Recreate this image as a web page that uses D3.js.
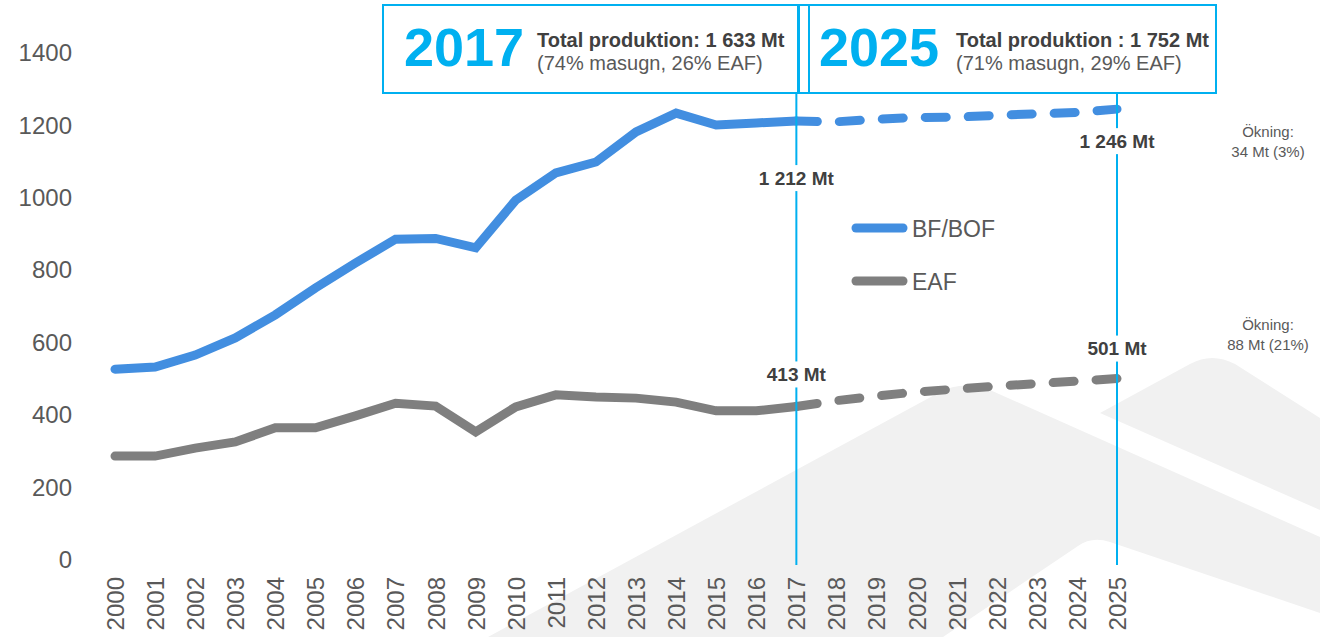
<!DOCTYPE html>
<html>
<head>
<meta charset="utf-8">
<script src="https://cdn.jsdelivr.net/npm/d3@7"></script>
<style>
  html, body { margin: 0; padding: 0; background: #fff; }
  svg { display: block; font-family: "Liberation Sans", Arial, sans-serif; }
</style>
</head>
<body>
<div id="chart"></div>
<script>
// --- data ---
const histYears = d3.range(2000, 2018);
const projYears = d3.range(2017, 2026);
const bfHist = [527, 533, 566, 613, 677, 751, 820, 886, 888, 862, 994, 1069, 1099, 1182, 1234, 1201, 1207, 1212];
const eafHist = [287, 287, 309, 326, 365, 365, 398, 433, 425, 354, 423, 456, 450, 447, 436, 412, 412, 424];
const bfProj = [1212, 1210, 1217, 1222, 1223, 1228, 1232, 1236, 1245];
const eafProj = [424, 440, 453, 464, 472, 480, 487, 494, 501];
const yTicks = [0, 200, 400, 600, 800, 1000, 1200, 1400];
const xTicks = d3.range(2000, 2026);
const seriesNames = ["BF/BOF", "EAF"];
const markYears = [2017, 2025];
const boxTitles = ["2017", "2025"];
const boxLine1 = ["Total produktion: 1 633 Mt", "Total produktion : 1 752 Mt"];
const boxLine2 = ["(74% masugn, 26% EAF)", "(71% masugn, 29% EAF)"];
const bfLabels = ["1 212 Mt", "1 246 Mt"];
const eafLabels = ["413 Mt", "501 Mt"];
const increaseNotes = [["Ökning:", "34 Mt (3%)"], ["Ökning:", "88 Mt (21%)"]];

const W = 1320, H = 637;
const blue = "#428ee0", grey = "#7f7f7f", cyan = "#00b0f0", txt = "#595959", dark = "#404040";

const svg = d3.select("#chart").append("svg").attr("width", W).attr("height", H);

const x = d3.scaleLinear().domain([2000, 2025]).range([115, 1117]);
const y = d3.scaleLinear().domain([0, 1400]).range([560, 53]);

// background mountain decoration
const bg = svg.append("g").attr("fill", "#f1f1f1");
bg.append("path").attr("d",
  "M488,637 L940,392 Q962,380 990,390 L1320,537 L1320,613 L1110,542 Q1092,536 1078,546 L943,637 Z");
bg.append("path").attr("d",
  "M1100,413 L1190,364 Q1212,352 1235,364 L1320,418 L1320,510 Z");

// axes
const yAxis = svg.append("g")
  .attr("transform", "translate(75,0)")
  .call(d3.axisLeft(y).tickValues(yTicks).tickFormat(d3.format("d")).tickSize(0).tickPadding(3));
yAxis.select(".domain").remove();
yAxis.selectAll("text").attr("font-size", 24).attr("fill", txt)
  .attr("font-family", "Liberation Sans, Arial, sans-serif");

const xAxis = svg.append("g")
  .attr("transform", "translate(0,565)")
  .call(d3.axisBottom(x).tickValues(xTicks).tickFormat(d3.format("d")).tickSize(0));
xAxis.select(".domain").remove();
xAxis.selectAll("text")
  .attr("font-size", 24).attr("fill", txt)
  .attr("font-family", "Liberation Sans, Arial, sans-serif")
  .attr("transform", "rotate(-90)")
  .attr("text-anchor", "end")
  .attr("x", -12).attr("y", 0).attr("dy", "0.35em");

// lines
const line = d3.line().x(d => x(d[0])).y(d => y(d[1]));
const zip = (xs, vs) => xs.map((yr, i) => [yr, vs[i]]);

[[bfHist, blue], [eafHist, grey]].forEach(([vals, c]) => {
  svg.append("path").datum(zip(histYears, vals))
    .attr("d", line).attr("fill", "none").attr("stroke", c)
    .attr("stroke-width", 9).attr("stroke-linecap", "round").attr("stroke-linejoin", "miter");
});
[[bfProj, blue], [eafProj, grey]].forEach(([vals, c]) => {
  svg.append("path").datum(zip(projYears, vals))
    .attr("d", line).attr("fill", "none").attr("stroke", c)
    .attr("stroke-width", 9).attr("stroke-linecap", "round")
    .attr("stroke-dasharray", "21,22");
});

// vertical marker lines
svg.append("g").selectAll("line").data(markYears).join("line")
  .attr("x1", d => x(d)).attr("x2", d => x(d))
  .attr("y1", 94).attr("y2", 565)
  .attr("stroke", cyan).attr("stroke-width", 2);

// value labels with white backing
function valueLabel(xp, yp, text) {
  const g = svg.append("g");
  const t = g.append("text").attr("x", xp).attr("y", yp).attr("dy", "0.35em")
    .attr("text-anchor", "middle").attr("font-size", 19).attr("font-weight", "bold")
    .attr("fill", dark).text(text);
  const bb = t.node().getBBox();
  g.insert("rect", "text").attr("x", bb.x - 3).attr("y", yp - 13)
    .attr("width", bb.width + 6).attr("height", 26).attr("fill", "#fff");
}
markYears.forEach((yr, i) => {
  valueLabel(x(yr), y(i === 0 ? bfHist[bfHist.length - 1] : bfProj[bfProj.length - 1]) + (i === 0 ? 57 : 32), bfLabels[i]);
  valueLabel(x(yr), y(i === 0 ? eafHist[eafHist.length - 1] : eafProj[eafProj.length - 1]) - (i === 0 ? 32 : 30), eafLabels[i]);
});

// increase notes
const notesY = [[137, 157], [330, 350]];
increaseNotes.forEach((lines, i) => {
  lines.forEach((s, j) => {
    svg.append("text").attr("x", 1268).attr("y", notesY[i][j])
      .attr("text-anchor", "middle").attr("font-size", 15).attr("fill", txt).text(s);
  });
});

// legend
const legend = svg.append("g");
[[blue, 228], [grey, 281]].forEach(([c, ly], i) => {
  legend.append("line").attr("x1", 856).attr("x2", 903).attr("y1", ly).attr("y2", ly)
    .attr("stroke", c).attr("stroke-width", 9).attr("stroke-linecap", "round");
  legend.append("text").attr("x", 912).attr("y", ly + 8.5)
    .attr("font-size", 23).attr("fill", txt).text(seriesNames[i]);
});

// top boxes
const boxes = [
  { x0: 383, x1: 798, titleX: 404, textX: 537 },
  { x0: 809, x1: 1216, titleX: 819, textX: 956 }
];
boxes.forEach((b, i) => {
  svg.append("rect").attr("x", b.x0).attr("y", 5).attr("width", b.x1 - b.x0).attr("height", 88)
    .attr("fill", "#fff").attr("stroke", cyan).attr("stroke-width", 2);
  svg.append("text").attr("x", b.titleX).attr("y", 66)
    .attr("font-size", 54).attr("font-weight", "bold").attr("fill", cyan).text(boxTitles[i]);
  svg.append("text").attr("x", b.textX).attr("y", 47)
    .attr("font-size", 20).attr("font-weight", "bold").attr("fill", dark).text(boxLine1[i]);
  svg.append("text").attr("x", b.textX).attr("y", 70)
    .attr("font-size", 20).attr("fill", txt).text(boxLine2[i]);
});
svg.append("rect").attr("x", 799).attr("y", 5).attr("width", 10).attr("height", 88)
  .attr("fill", "none").attr("stroke", cyan).attr("stroke-width", 2);
</script>
</body>
</html>
